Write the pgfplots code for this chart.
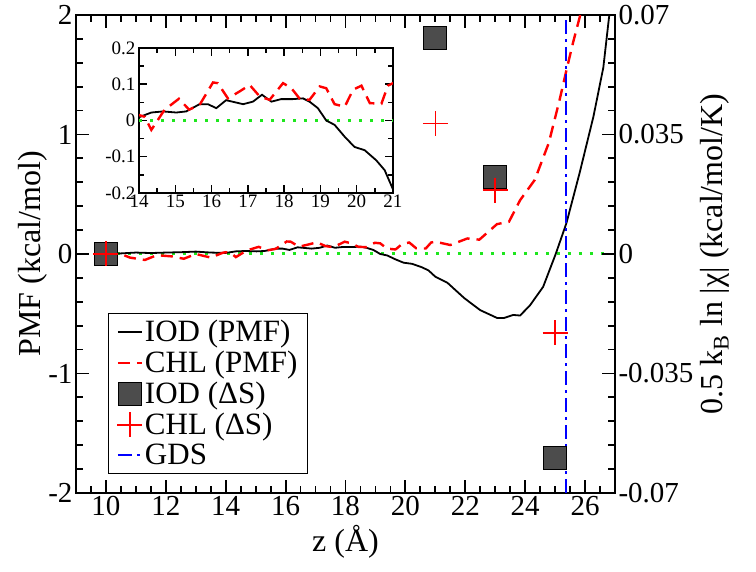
\documentclass[border=0pt]{standalone}
\usepackage{pgfplots}
\pgfplotsset{compat=1.18}
\usepackage{pgfplotstable}
\usepackage{fontspec}
\setmainfont{Liberation Serif}

\pgfplotstableread{
z pmf
10 0
10.5 0.005
11 0.012
11.5 0.008
12 0.012
12.5 0.015
13 0.02
13.5 0.012
14 0.009
14.34 0.022
14.66 0.025
15.03 0.022
15.3 0.025
15.67 0.045
15.9 0.045
16.13 0.034
16.4 0.056
16.87 0.045
17.14 0.052
17.39 0.071
17.65 0.052
17.92 0.059
18.24 0.059
18.52 0.061
18.7 0.052
18.93 0.034
19.16 0.0
19.39 -0.012
19.67 -0.045
19.94 -0.073
20.22 -0.082
20.54 -0.11
20.77 -0.137
21.0 -0.19
21.4 -0.24
21.97 -0.37
22.5 -0.47
23.06 -0.535
23.3 -0.535
23.6 -0.51
23.83 -0.515
24.16 -0.43
24.6 -0.275
25.02 0.0
25.38 0.26
25.82 0.68
26.28 1.15
26.61 1.56
26.8 1.98
26.85 2.05
}\iod

\pgfplotstableread{
z pmf
10 0
10.4 0.01
10.8 -0.03
11.3 -0.05
11.7 -0.01
12.2 -0.02
12.6 -0.04
13.0 0.0
13.5 -0.03
13.9 0.01
14 0.015
14.16 0.01
14.34 -0.026
14.7 0.029
15.1 0.06
15.38 0.03
15.67 0.043
16.04 0.105
16.17 0.103
16.45 0.061
16.77 0.08
17.05 0.098
17.33 0.066
17.6 0.057
17.97 0.103
18.2 0.089
18.43 0.06
18.7 0.057
18.98 0.094
19.16 0.089
19.39 0.045
19.67 0.038
19.9 0.085
20.13 0.096
20.36 0.048
20.68 0.046
20.86 0.096
21.0 0.103
21.5 0.075
22.07 0.13
22.47 0.12
23.06 0.25
23.46 0.27
23.83 0.45
24.32 0.62
24.79 0.93
25.15 1.29
25.38 1.54
25.6 1.77
25.82 1.98
25.85 2.02
}\chl

\pgfplotstableread{
z ds
10 0
21 1.81
23 0.645
25 -1.71
}\iodds

\pgfplotstableread{
z ds
10 0
21 1.09
23 0.535
25 -0.66
}\chlds

\definecolor{mygreen}{RGB}{30,230,30}
\tikzset{
  reddash/.style={red, line width=2.4pt, dash pattern=on 12pt off 7pt},
  blackline/.style={black, line width=1.8pt},
  greendot/.style={mygreen, line width=3pt, dash pattern=on 3pt off 8pt},
  bluedd/.style={blue, line width=2pt, dash pattern=on 14pt off 5pt on 3pt off 5pt},
}

\begin{document}
\begin{tikzpicture}
\begin{axis}[
  name=main,
  scale only axis,
  width=539pt, height=478pt,
  xmin=9, xmax=27, ymin=-2, ymax=2,
  xtick={10,12,...,26},
  minor xtick={9,9.5,...,27},
  ytick={-2,-1,0,1,2},
  yticklabels={-2,-1,0,1,2},
  minor ytick={-2,-1.8,...,2},
  xtick pos=both, xticklabel pos=lower,
  ytick pos=left,
  xtick align=inside,
  ytick align=inside,
  major tick length=13pt,
  minor tick length=7pt,
  axis line style={line width=2pt},
  major tick style={line width=1.8pt, black},
  minor tick style={line width=1.8pt, black},
  /pgf/number format/assume math mode=true,
  tick label style={font=\fontsize{29}{30}\selectfont},
  xlabel={z (Å)},
  ylabel={PMF (kcal/mol)},
  label style={font=\fontsize{32}{34}\selectfont},
  xlabel style={yshift=-2pt},
  ylabel style={yshift=-6pt},
  clip=true,
  legend style={at={(32pt,19pt)}, anchor=south west, draw=black, line width=1.2pt,
    font=\fontsize{31}{31}\selectfont, row sep=4pt, inner xsep=8pt, inner ysep=5pt,
    cells={anchor=west}, /tikz/every even column/.append style={column sep=14pt}},
  legend image code/.code={\draw[mark repeat=2,mark phase=2,#1] plot coordinates {(0pt,0pt) (12pt,0pt) (24pt,0pt)};},
]
\addplot[greendot, forget plot] coordinates {(10,0) (26.7,0)};
\addplot[blackline] table[x=z,y=pmf] {\iod};
\addlegendentry{IOD (PMF)}
\addplot[reddash] table[x=z,y=pmf] {\chl};
\addlegendentry{CHL (PMF)}
\addplot[black, only marks, mark=square*, mark size=11.5pt, line width=0.8pt, mark options={fill=black!70, draw=black, solid}] table[x=z,y=ds] {\iodds};
\addlegendentry{IOD (ΔS)}
\addplot[red, only marks, mark=+, mark size=12.5pt, line width=1.5pt, mark options={red, solid}] table[x=z,y=ds] {\chlds};
\addlegendentry{CHL (ΔS)}
\addplot[bluedd] coordinates {(25.35,-2) (25.35,2)};
\addlegendentry{GDS}
\end{axis}

\begin{axis}[
  scale only axis,
  width=539pt, height=478pt,
  xmin=9, xmax=27, ymin=-0.07, ymax=0.07,
  axis x line=none,
  axis y line*=right,
  scaled y ticks=false,
  ytick={-0.07,-0.035,0,0.035,0.07},
  yticklabels={-0.07,-0.035,0,0.035,0.07},
  minor ytick={-0.07,-0.063,...,0.07},
  ytick align=inside,
  major tick length=13pt,
  minor tick length=7pt,
  axis line style={line width=2pt},
  major tick style={line width=1.8pt, black},
  minor tick style={line width=1.8pt, black},
  tick label style={font=\fontsize{29}{30}\selectfont},
  ylabel={0.5 k\textsubscript{B} ln |χ| (kcal/mol/K)},
  label style={font=\fontsize{32}{34}\selectfont},
]
\end{axis}

\begin{axis}[
  at={(63pt,300pt)}, anchor=south west,
  scale only axis,
  width=254pt, height=145pt,
  xmin=14, xmax=21, ymin=-0.2, ymax=0.2,
  xtick={14,...,21},
  ytick={-0.2,-0.1,0,0.1,0.2},
  yticklabels={-0.2,-0.1,0,0.1,0.2},
  minor xtick={14.5,15.5,...,20.5},
  minor ytick={-0.15,-0.05,0.05,0.15},
  xtick align=inside, ytick align=inside,
  major tick length=8pt,
  minor tick length=5pt,
  axis line style={line width=1.6pt},
  major tick style={line width=1.5pt, black},
  minor tick style={line width=1.5pt, black},
  /pgf/number format/assume math mode=true,
  tick label style={font=\fontsize{19}{20}\selectfont},
  xticklabel style={yshift=2pt},
  axis background/.style={fill=white},
]
\addplot[greendot] coordinates {(14,0) (21,0)};
\addplot[blackline] table[x=z,y=pmf] {\iod};
\addplot[reddash] table[x=z,y=pmf] {\chl};
\end{axis}
\pgfresetboundingbox
\path (-76pt,-79pt) rectangle (680pt,493pt);
\end{tikzpicture}
\end{document}
